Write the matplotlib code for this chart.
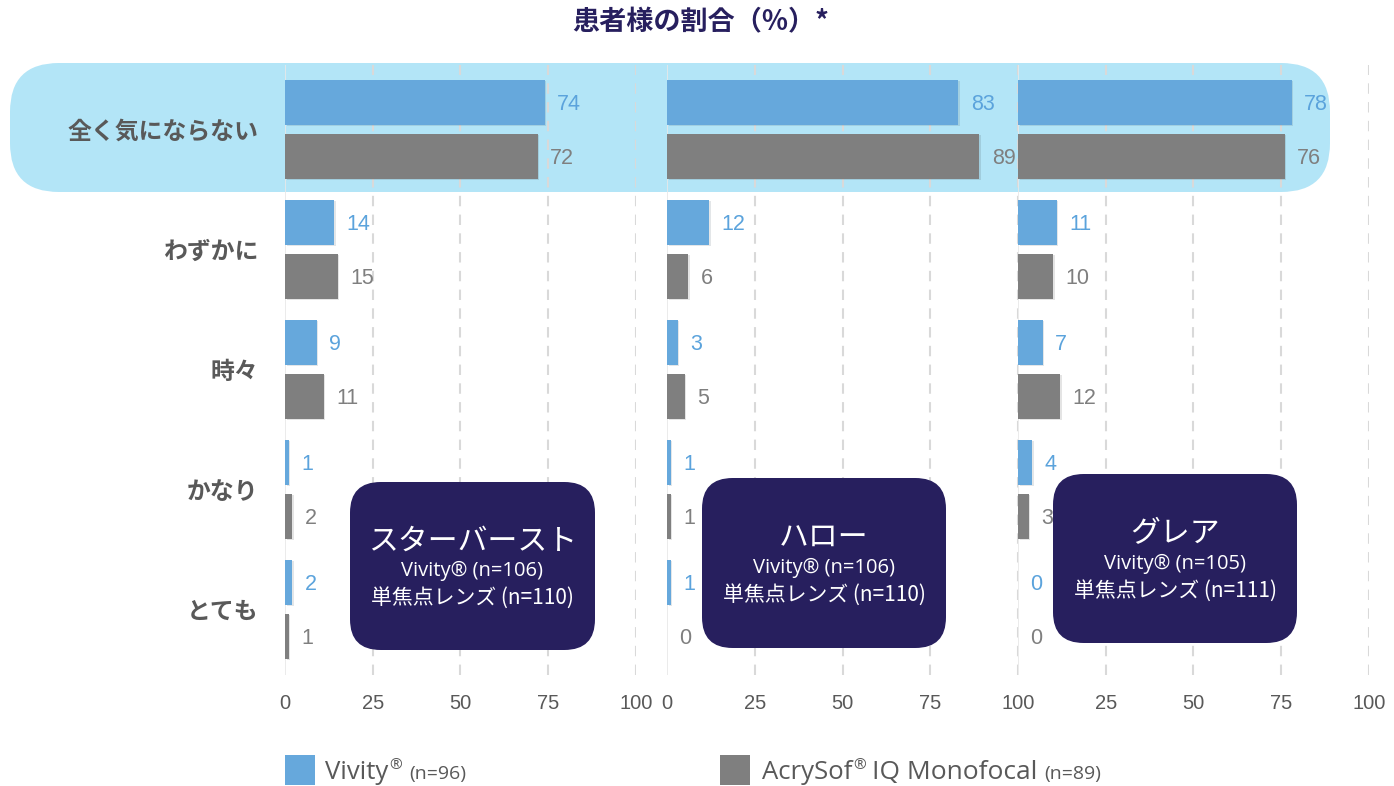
import matplotlib
matplotlib.use("Agg")
import matplotlib.pyplot as plt
from matplotlib.patches import FancyBboxPatch, Rectangle
import matplotlib.patheffects as pe

categories = ['全く気にならない', 'わずかに', '時々', 'かなり', 'とても']
panel_titles = ['スターバースト', 'ハロー', 'グレア']
panel_vivity_n = ['Vivity® (n=106)', 'Vivity® (n=106)', 'Vivity® (n=105)']
panel_mono_n = ['単焦点レンズ (n=110)', '単焦点レンズ (n=110)', '単焦点レンズ (n=111)']
vivity_vals = [
    [74, 14, 9, 1, 2],
    [83, 12, 3, 1, 1],
    [78, 11, 7, 4, 0],
]
mono_vals = [
    [72, 15, 11, 2, 1],
    [89, 6, 5, 1, 0],
    [76, 10, 12, 3, 0],
]
xticks = [0, 25, 50, 75, 100]
title = '患者様の割合（%）*'

W, H = 1394, 786
BLUE = '#66A8DC'
GRAY = '#7F7F7F'
NAVY = '#271F5E'
TXT = '#595959'
CJK = ['Noto Sans CJK JP', 'DejaVu Sans']
NUM = ['Liberation Sans', 'DejaVu Sans']

fig = plt.figure(figsize=(W / 100, H / 100), dpi=100)


def fx(x):
    return x / W


def fy(y):
    return 1 - y / H


# highlight band
band = FancyBboxPatch((fx(10), fy(192)), fx(1330) - fx(10), fy(63) - fy(192),
                      boxstyle="round,pad=0,rounding_size=0.035",
                      transform=fig.transFigure, facecolor='#B3E5F7',
                      edgecolor='none', zorder=-5, mutation_aspect=W / H)
fig.patches.append(band)

fig.text(fx(701), fy(22), title, ha='center', va='center', fontsize=19.5,
         fontweight='bold', color=NAVY, family=CJK)

lefts = [285, 667, 1018]
pw = 351
top, bot = 65, 675
rows = list(range(len(categories)))
ylo = (bot - 129) / 120
yhi = (top - 129) / 120
off = 0.225
bh = 0.375

for p in range(3):
    ax = fig.add_axes([fx(lefts[p]), fy(bot), pw / W, (bot - top) / H])
    ax.set_facecolor('none')
    ax.set_xlim(0, 100)
    ax.set_ylim(ylo, yhi)
    for s in ax.spines.values():
        s.set_visible(False)
    for xv in xticks[1:]:
        ax.axvline(xv, color='#D9D9D9', lw=1.5, ls=(0, (5, 4)), zorder=1)
    ax.axvline(0, color='#E8E8E8', lw=1.2, zorder=1)
    shadow = [pe.SimplePatchShadow(offset=(1.2, -1.2), alpha=0.12), pe.Normal()]
    yb = [r - off for r in rows]
    yg = [r + off for r in rows]
    b1 = ax.barh(yb, vivity_vals[p], height=bh, color=BLUE, zorder=3)
    b2 = ax.barh(yg, mono_vals[p], height=bh, color=GRAY, zorder=3)
    for b in list(b1) + list(b2):
        b.set_path_effects(shadow)
    for y, v in zip(yb, vivity_vals[p]):
        ax.annotate(str(v), xy=(v, y), xytext=(9, 0), textcoords='offset points',
                    ha='left', va='center_baseline', fontsize=15.5, color='#5BA3DC', family=NUM)
    for y, v in zip(yg, mono_vals[p]):
        ax.annotate(str(v), xy=(v, y), xytext=(9, 0), textcoords='offset points',
                    ha='left', va='center_baseline', fontsize=15.5, color=GRAY, family=NUM)
    ax.set_xticks(xticks)
    if p == 2:
        ax.set_xticklabels([''] + [str(t) for t in xticks[1:]])
    else:
        ax.set_xticklabels([str(t) for t in xticks])
    for lab in ax.get_xticklabels():
        lab.set_family(NUM)
        lab.set_fontsize(14.5)
        lab.set_color(TXT)
    ax.tick_params(axis='x', length=0, pad=14)
    if p == 0:
        ax.set_yticks(rows)
        ax.set_yticklabels(categories)
        for lab in ax.get_yticklabels():
            lab.set_family(CJK)
            lab.set_fontsize(17.2)
            lab.set_fontweight('bold')
            lab.set_color(TXT)
        ax.tick_params(axis='y', length=0, pad=19)
    else:
        ax.set_yticks([])

# annotation boxes
boxes = [(350, 482, 595, 650), (702, 478, 946, 648), (1053, 474, 1297, 643)]
for p, (x0, y0, x1, y1) in enumerate(boxes):
    bx = FancyBboxPatch((fx(x0), fy(y1)), fx(x1) - fx(x0), fy(y0) - fy(y1),
                        boxstyle="round,pad=0,rounding_size=0.022",
                        transform=fig.transFigure, facecolor=NAVY,
                        edgecolor='none', zorder=5, mutation_aspect=W / H)
    fig.patches.append(bx)
    cx = (x0 + x1) / 2
    cy = (y0 + y1) / 2
    fig.text(fx(cx), fy(cy - 25), panel_titles[p], ha='center', va='center',
             fontsize=21.5, color='white', family=CJK, zorder=6)
    fig.text(fx(cx), fy(cy + 5), panel_vivity_n[p], ha='center', va='center',
             fontsize=14.5, color='white', family=['Open Sans', 'DejaVu Sans'], zorder=6)
    fig.text(fx(cx), fy(cy + 32), panel_mono_n[p], ha='center', va='center',
             fontsize=15, color='white', family=['Noto Sans CJK JP', 'DejaVu Sans'], zorder=6)

# legend
fig.patches.append(Rectangle((fx(285), fy(785)), 30 / W, 30 / H, transform=fig.transFigure,
                             facecolor=BLUE, edgecolor='none'))
fig.patches.append(Rectangle((fx(720), fy(785)), 30 / W, 30 / H, transform=fig.transFigure,
                             facecolor=GRAY, edgecolor='none'))

renderer = fig.canvas.get_renderer()
LF = ['Open Sans', 'DejaVu Sans']


def chain(x, parts):
    for txt, size, dy, gap in parts:
        t = fig.text(fx(x), fy(779 + dy), txt, ha='left', va='baseline', fontsize=size,
                     color=TXT, family=LF)
        bb = t.get_window_extent(renderer)
        x = x + bb.width + gap


chain(325, [('Vivity', 18.5, 0, 1), ('®', 11, -10, 7), ('(n=96)', 14, 0, 0)])
chain(762, [('AcrySof', 18.5, 0, 1), ('®', 11, -10, 6), ('IQ Monofocal', 19, 0, 7), ('(n=89)', 14, 0, 0)])

fig.savefig('out.png', dpi=100)
